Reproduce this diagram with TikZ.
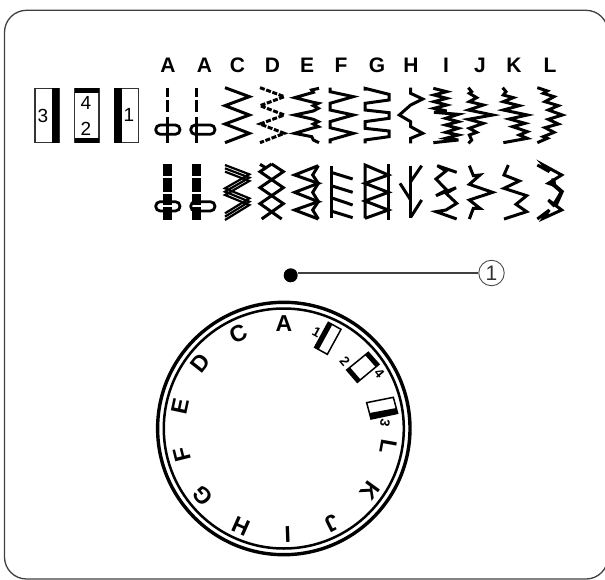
\documentclass[tikz,border=0pt]{standalone}
\usepackage{fontspec}
\setmainfont{Liberation Sans}
\tikzset{
  st/.style={line width=3pt,line join=miter,miter limit=6,black},
  oval/.style={draw=black,line width=2.8pt,rounded corners=4.6pt},
  thinbox/.style={draw=black!80,line width=1.4pt,fill=white},
  lab/.style={font=\bfseries\fontsize{21}{21}\selectfont,inner sep=0pt,text=black},
  dial/.style={font=\bfseries\fontsize{23}{22}\selectfont,inner sep=0pt,text=black},
  small/.style={font=\bfseries\fontsize{13.5}{14}\selectfont,inner sep=0pt,text=black},
  num/.style={font=\fontsize{19}{19}\selectfont,inner sep=0pt,text=black},
  zoomA/.style={shift={(150,75)},scale=1/3},
  zoomB/.style={shift={(150,155)},scale=1/3},
  zoomC/.style={shift={(290,75)},scale=1/3},
  zoomD/.style={shift={(430,75)},scale=1/3},
  zoomE/.style={shift={(290,155)},scale=1/3},
  zoomF/.style={shift={(430,155)},scale=1/3},
  zoomG/.style={shift={(140,270)},scale=1/3},
}
\newcommand{\triplecol}[1]{%
  \foreach \dx in {-9,0,9}{
    \foreach \ya/\yb in {28/62,68/112,118/150,156/195}{
      \draw[line width=2.7pt,black] (#1+\dx,\ya) -- (#1+\dx,\yb);
    }
  }}
\begin{document}
\begin{tikzpicture}[x=1pt,y=-1pt]
\useasboundingbox (0,0) rectangle (605,580);
\clip (0,0) rectangle (605,580);
% frame
\draw[line width=1.3pt,black!75,rounded corners=22pt] (4.5,10.3) rectangle (608,579);
% column labels
\foreach \lx/\lt in {168/A,204.5/A,237.5/C,272.5/D,307/E,341/F,377/G,411/H,446/I,480/J,514/K,550/L}{
  \node[lab,anchor=base] (L\lx) at (\lx,72.5) {\lt};
}
% left boxes
\draw[thinbox] (35,88.3) rectangle (59.3,142.7);
\fill[black] (51.7,88.3) rectangle (59.3,142.7);
\node[num] (n3) at (43,116) {3};
\draw[thinbox] (74.7,88.3) rectangle (99,142.7);
\fill[black] (74.7,88.3) rectangle (99,92.7);
\fill[black] (74.7,138.3) rectangle (99,142.7);
\node[num] (n4) at (86,103) {4};
\node[num] (n2) at (86,128.5) {2};
\draw[thinbox] (114.3,88.3) rectangle (138.7,142.7);
\fill[black] (114.3,88.3) rectangle (122.3,142.7);
\node[num] (n1) at (129,114.5) {1};
% Row 1
\begin{scope}[zoomA]
  \draw[st] (53,38) -- (53,66) (53,75) -- (53,112) (53,125) -- (53,205);
  \draw[st] (138,38) -- (138,66) (138,75) -- (138,112) (138,125) -- (138,205);
  \draw[oval] (17,150) rectangle (90,178);
  \draw[oval] (122,150) rectangle (195,178);
  \draw[st] (225,38) -- (298,65) -- (225,92) -- (298,120) -- (225,147) -- (298,175) -- (225,203);
  \draw[st,dash pattern=on 5pt off 1.6pt] (330,38) -- (403,65) -- (330,92) -- (403,120) -- (330,147) -- (403,175) -- (330,203);
\end{scope}
\begin{scope}[zoomC]
  \draw[st] (87,40) -- (65,45) -- (70,52) -- (14,68) -- (70,82) -- (85,85) -- (70,92) -- (85,100) -- (70,108) -- (14,120) -- (70,133) -- (85,140) -- (70,147) -- (85,155) -- (65,160) -- (14,175) -- (65,185) -- (70,195) -- (87,203);
  \draw[st] (120,38) -- (120,50) -- (190,65) -- (120,85) -- (120,105) -- (190,120) -- (120,140) -- (120,158) -- (190,175) -- (120,195) -- (120,205);
  \draw[st] (225,47) -- (225,40) -- (297,58) -- (297,75) -- (225,85) -- (225,105) -- (297,113) -- (297,130) -- (225,140) -- (225,160) -- (297,168) -- (297,185) -- (225,195) -- (225,205);
  \draw[st] (362,38) -- (362,55) -- (398,72) -- (362,90) -- (328,120) -- (362,140) -- (362,155) -- (398,175) -- (362,190) -- (362,205);
\end{scope}
\begin{scope}[zoomD]
  \draw[st] (10,40) -- (50,50) -- (12,60) -- (50,70) -- (12,80) -- (50,90) -- (12,100) -- (50,108) -- (12,112) -- (85,118) -- (47,130) -- (85,140) -- (47,150) -- (85,160) -- (47,172) -- (85,180) -- (47,190) -- (85,195) -- (10,203);
  \draw[st] (115,38) -- (125,50) -- (118,55) -- (140,68) -- (118,80) -- (160,90) -- (115,105) -- (188,120) -- (115,133) -- (160,145) -- (118,160) -- (140,172) -- (118,180) -- (125,195) -- (115,205);
  \draw[st] (218,38) -- (228,50) -- (220,60) -- (250,68) -- (220,80) -- (268,92) -- (220,105) -- (292,120) -- (238,132) -- (285,145) -- (248,155) -- (292,170) -- (268,180) -- (292,190) -- (220,203);
  \draw[st] (322,38) -- (352,48) -- (340,55) -- (372,65) -- (345,80) -- (385,92) -- (355,105) -- (397,120) -- (355,133) -- (385,147) -- (345,158) -- (372,172) -- (340,185) -- (352,190) -- (322,203);
\end{scope}
% Row 2
\begin{scope}[zoomB]
  \triplecol{53}
  \triplecol{140}
  \draw[oval] (17,140) rectangle (90,168);
  \draw[oval] (122,140) rectangle (195,168);
  \foreach \dy in {-10,0,10}{
    \draw[line width=2.2pt,black] (225,40+\dy) -- (298,68+\dy) -- (225,110+\dy) -- (298,140+\dy) -- (225,185+\dy);
  }
  \draw[st] (365,27) -- (400,50) -- (330,98) -- (400,146) -- (335,192);
  \draw[st] (365,27) -- (330,50) -- (400,98) -- (330,146) -- (395,192);
  \draw[st] (330,28) -- (350,40);
\end{scope}
\begin{scope}[zoomE]
  \draw[st] (85,32) -- (14,60) -- (85,85) -- (14,112) -- (85,140) -- (14,165) -- (85,192);
  \draw[st] (85,32) -- (68,60) -- (85,85) -- (68,112) -- (85,140) -- (68,165) -- (85,192);
  \draw[st] (123,32) -- (123,190);
  \draw[st] (123,52) -- (188,72) (123,92) -- (188,112) (123,128) -- (188,150) (123,168) -- (188,188);
  \draw[st] (295,28) -- (295,195);
  \draw[st] (225,190) -- (225,30) -- (295,60) -- (225,85) -- (295,112) -- (225,138) -- (295,165) -- (225,190);
  \draw[st] (362,32) -- (362,190);
  \draw[st] (395,32) -- (362,80) (330,85) -- (362,135) (395,135) -- (362,187);
\end{scope}
\begin{scope}[zoomF]
  \draw[st] (80,52) -- (22,32) -- (48,48) -- (18,72) -- (50,105) -- (18,122) -- (78,98) -- (48,115) -- (80,145) -- (48,165) -- (18,170) -- (80,192);
  \draw[st] (118,32) -- (130,62) -- (150,60) -- (118,88) -- (188,112) -- (118,135) -- (150,160) -- (130,160) -- (118,192) -- (128,165);
  \draw[st] (235,30) -- (222,60) -- (268,78) -- (222,100) -- (290,122) -- (258,148) -- (290,170) -- (222,192);
  \draw[st] (322,30) -- (358,50) -- (340,30) -- (395,60) -- (355,85) -- (370,90) -- (395,110) -- (370,150) -- (355,135) -- (395,165) -- (340,190) -- (358,165) -- (322,192);
  \draw[line width=4pt] (370,70) -- (372,90) -- (395,110) -- (375,155);
\end{scope}
% leader
\node[circle,fill=black,minimum size=14pt,inner sep=0pt] (dot) at (290.7,275.3) {};
\node[circle,draw=black!70,line width=.9pt,minimum size=25.5pt,inner sep=0pt,font=\fontsize{21}{21}\selectfont,text=black!80] (callout) at (491.5,273) {1};
\draw[line width=1.2pt,black!75] (dot.east |- callout.west) -- (callout.west);
% dial
\coordinate (dc) at (283.8,428.5);
\draw[line width=3.4pt] (dc) circle[radius=126.2];
\draw[line width=2.5pt] (dc) circle[radius=120];
\foreach \px/\py/\rot/\t in {284/323.3/0/A,238.3/333.3/25.6/C,200/363.3/52/D,180/406.7/78/E,181.7/454.3/104/F,202.7/496/130/G,240.7/526/156/H,287.7/534.3/182/I,331.7/523.3/207/J,370/490.7/234/K,388.3/446.7/260/L}{
  \node[dial,rotate=\rot] (d\t) at (\px,\py) {\t};
}
\begin{scope}[zoomG]
  \draw[thinbox,line width=1.5pt,draw=black] (565,157) -- (603,178) -- (562,253) -- (524,232) -- cycle;
  \fill[black] (565,157) -- (577,164) -- (536,239) -- (524,232) -- cycle;
  \draw[thinbox,line width=1.5pt,draw=black] (685,247) -- (717,283) -- (652,337) -- (620,300) -- cycle;
  \fill[black] (685,247) -- (717,283) -- (707,291) -- (675,255) -- cycle;
  \fill[black] (630,292) -- (662,329) -- (652,337) -- (620,300) -- cycle;
  \draw[thinbox,line width=1.5pt,draw=black] (680,398) -- (760,382) -- (773,430) -- (693,447) -- cycle;
  \fill[black] (689,429) -- (769,414) -- (773,430) -- (693,447) -- cycle;
  \node[small,rotate=-29] (s1) at (530,188) {1};
  \node[small,rotate=-50] (s2) at (615,275) {2};
  \node[small,rotate=-50] (s4) at (718,310) {4};
  \node[small,rotate=-100] (s3) at (735,458) {3};
\end{scope}
\end{tikzpicture}
\end{document}
